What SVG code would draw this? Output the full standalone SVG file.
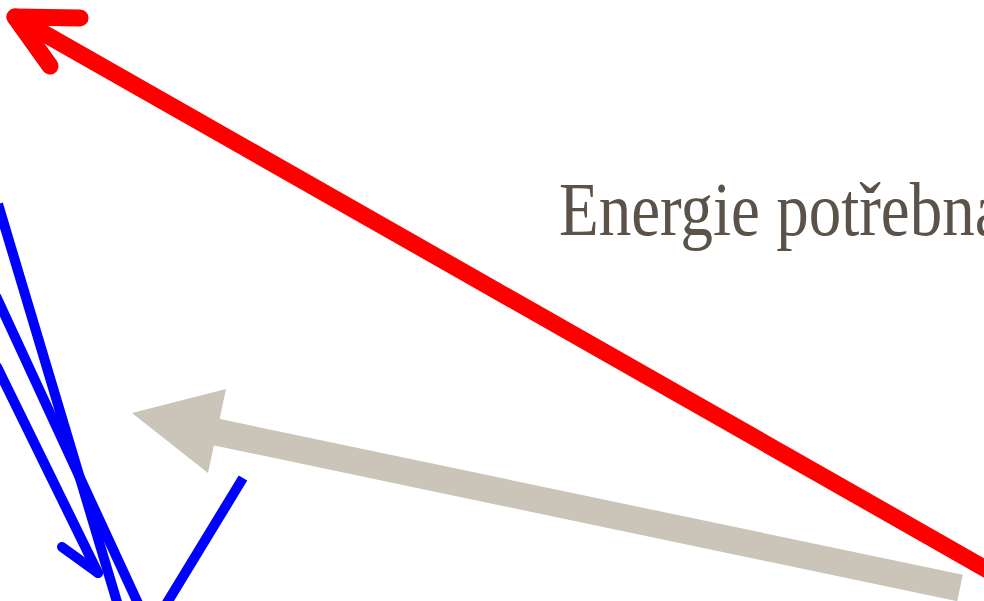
<svg xmlns="http://www.w3.org/2000/svg" width="984" height="601" viewBox="0 0 984 601">
  <style>
    .blue { fill: none; stroke: #0000FF; stroke-width: 10; }
    .red { fill: none; stroke: #FF0000; stroke-width: 17; stroke-linecap: round; stroke-linejoin: round; }
    .label { font-family: "Liberation Serif", "Times New Roman", serif; font-size: 65px; fill: #5B5249; }
  </style>
  <rect x="0" y="0" width="984" height="601" fill="#FFFFFF"/>
  <g id="label">
    <text class="label" transform="translate(559,235) scale(1,1.17)">Energie potřebna</text>
  </g>
  <g id="connectors">
    <g id="gray-arrow">
      <line x1="960" y1="588" x2="216" y2="432" stroke="#CAC5B8" stroke-width="27"/>
      <polygon points="132,413 226,389 208,473" fill="#CAC5B8"/>
    </g>
    <g id="red-arrow">
      <line class="red" x1="15" y1="17" x2="1000" y2="577"/>
      <polyline class="red" points="80,18 15,17 50,66"/>
    </g>
    <g id="blue-lines">
      <line class="blue" x1="-2" y1="204" x2="120" y2="612"/>
      <line class="blue" x1="-4" y1="296" x2="142" y2="612"/>
      <line class="blue" x1="-3" y1="367" x2="98" y2="573" stroke-linecap="round"/>
      <polyline class="blue" points="62,547 98,573" stroke-linecap="round" stroke-linejoin="round"/>
      <line class="blue" x1="243" y1="478" x2="162" y2="611"/>
    </g>
  </g>
</svg>
